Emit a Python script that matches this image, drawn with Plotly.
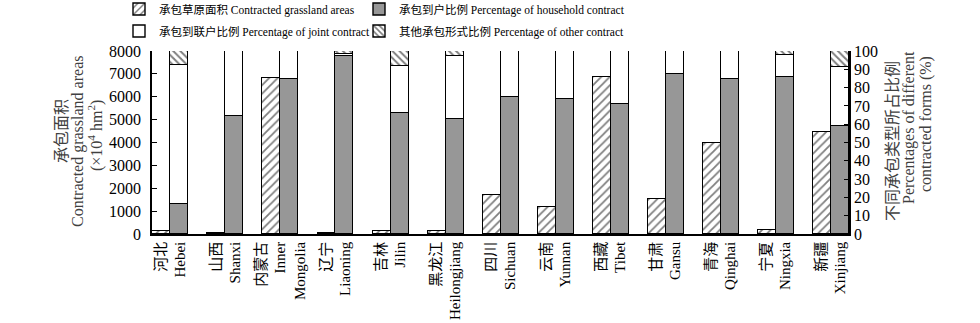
import plotly.graph_objects as go

# Provinces (Chinese name / English name)
provinces_cn = ["河北", "山西", "内蒙古", "辽宁", "吉林", "黑龙江", "四川",
                "云南", "西藏", "甘肃", "青海", "宁夏", "新疆"]
provinces_en = ["Hebei", "Shanxi", "Inner<br>Mongolia", "Liaoning", "Jilin",
                "Heilongjiang", "Sichuan", "Yunnan", "Tibet", "Gansu",
                "Qinghai", "Ningxia", "Xinjiang"]

# Contracted grassland area (×10^4 hm²)
contracted_area = [110, 60, 6810, 60, 110, 110, 1700, 1180, 6850, 1550, 3960, 170, 4450]

# Share of each contract form (%)
household_pct = [16.3, 64.4, 84.8, 97.0, 65.9, 62.8, 74.7, 73.7, 70.8, 87.2, 84.5, 85.8, 59.1]
joint_pct = [76.0, 35.6, 15.2, 1.2, 25.9, 34.5, 25.3, 26.3, 29.2, 12.8, 15.5, 11.8, 32.1]
other_pct = [7.7, 0.0, 0.0, 1.8, 8.2, 2.7, 0.0, 0.0, 0.0, 0.0, 0.0, 2.4, 8.8]

left_ticks = [0, 1000, 2000, 3000, 4000, 5000, 6000, 7000, 8000]
right_ticks = [0, 10, 20, 30, 40, 50, 60, 70, 80, 90, 100]

left_title = ["承包面积", "Contracted grassland areas", "(×10<sup>4</sup> hm<sup>2</sup>)"]
right_title = ["不同承包类型所占比例", "Percentages of different", "contracted forms (%)"]

FONT = "Liberation Serif, Times New Roman, Noto Sans CJK SC, serif"
BAR_W = 0.327
idx = list(range(len(provinces_cn)))
x_area = [i - BAR_W / 2 for i in idx]
x_pct = [i + BAR_W / 2 for i in idx]
tick_text = [f"{c}<br>{e}" for c, e in zip(provinces_cn, provinces_en)]

outline = dict(color="black", width=1.4)

fig = go.Figure()
fig.add_trace(go.Bar(
    x=x_area, y=contracted_area, width=BAR_W, yaxis="y", legend="legend",
    name="承包草原面积 Contracted grassland areas",
    marker=dict(color="white", line=outline,
                pattern=dict(shape="/", fgcolor="black", bgcolor="white",
                             size=6, solidity=0.3)),
))
fig.add_trace(go.Bar(
    x=x_pct, y=household_pct, width=BAR_W, yaxis="y2", legend="legend2",
    name="承包到户比例 Percentage of household contract",
    marker=dict(color="#979797", line=outline),
))
fig.add_trace(go.Bar(
    x=x_pct, y=joint_pct, width=BAR_W, yaxis="y2", legend="legend3",
    name="承包到联户比例 Percentage of joint contract",
    marker=dict(color="white", line=outline),
))
fig.add_trace(go.Bar(
    x=x_pct, y=other_pct, width=BAR_W, yaxis="y2", legend="legend4",
    name="其他承包形式比例 Percentage of other contract",
    marker=dict(color="white", line=outline,
                pattern=dict(shape="\\", fgcolor="black", bgcolor="white",
                             size=5, solidity=0.4)),
))

legend_style = dict(
    orientation="v", xref="container", yref="container",
    xanchor="left", yanchor="middle",
    font=dict(family=FONT, size=11.5, color="black"),
    traceorder="normal", tracegroupgap=0, itemwidth=30,
    bgcolor="rgba(0,0,0,0)", borderwidth=0,
)
col1_x, col2_x = 119 / 980, 359 / 980
row1_y, row2_y = 1 - 9 / 323, 1 - 31 / 323

annotations = []
# Left axis title, one annotation per line
for text, xpx, ymid in zip(left_title, [61, 78, 95], [131, 142, 136]):
    annotations.append(dict(
        text=text, xref="paper", yref="paper",
        x=(xpx - 152) / 697, y=(234 - ymid) / 183,
        xanchor="center", yanchor="middle", textangle=-90, showarrow=False,
        font=dict(family=FONT, size=16, color="#404040")))
# Right axis title, one annotation per line
for text, xpx, ymid in zip(right_title, [892, 909, 926], [141, 128, 124]):
    annotations.append(dict(
        text=text, xref="paper", yref="paper",
        x=(xpx - 152) / 697, y=(234 - ymid) / 183,
        xanchor="center", yanchor="middle", textangle=-90, showarrow=False,
        font=dict(family=FONT, size=16, color="#404040")))

fig.update_layout(
    width=980, height=323,
    margin=dict(l=152, r=131, t=51, b=89, pad=0, autoexpand=False),
    paper_bgcolor="white", plot_bgcolor="white",
    barmode="stack", bargap=0,
    font=dict(family=FONT, size=15, color="black"),
    showlegend=True,
    legend=dict(legend_style, x=col1_x, y=row1_y),
    legend2=dict(legend_style, x=col2_x, y=row1_y),
    legend3=dict(legend_style, x=col1_x, y=row2_y),
    legend4=dict(legend_style, x=col2_x, y=row2_y),
    xaxis=dict(
        range=[-0.335, 12.333], tickmode="array", tickvals=idx, ticktext=tick_text,
        tickangle=-90, showline=True, linecolor="black", linewidth=1.5,
        ticks="", showgrid=False, zeroline=False,
        tickfont=dict(family=FONT, size=15, color="black"),
    ),
    yaxis=dict(
        range=[0, 8000], tickmode="array", tickvals=left_ticks,
        showline=True, linecolor="black", linewidth=1.5,
        ticks="inside", ticklen=5, tickwidth=1.2, tickcolor="black",
        ticklabelstandoff=6,
        showgrid=False, zeroline=False,
        tickfont=dict(family=FONT, size=16, color="black"),
    ),
    yaxis2=dict(
        range=[0, 100], tickmode="array", tickvals=right_ticks,
        overlaying="y", side="right", anchor="x",
        showline=True, linecolor="black", linewidth=1.5,
        ticks="inside", ticklen=5, tickwidth=1.2, tickcolor="black",
        showgrid=False, zeroline=False,
        tickfont=dict(family=FONT, size=16, color="black"),
    ),
    annotations=annotations,
)

fig.write_html("out.html")
